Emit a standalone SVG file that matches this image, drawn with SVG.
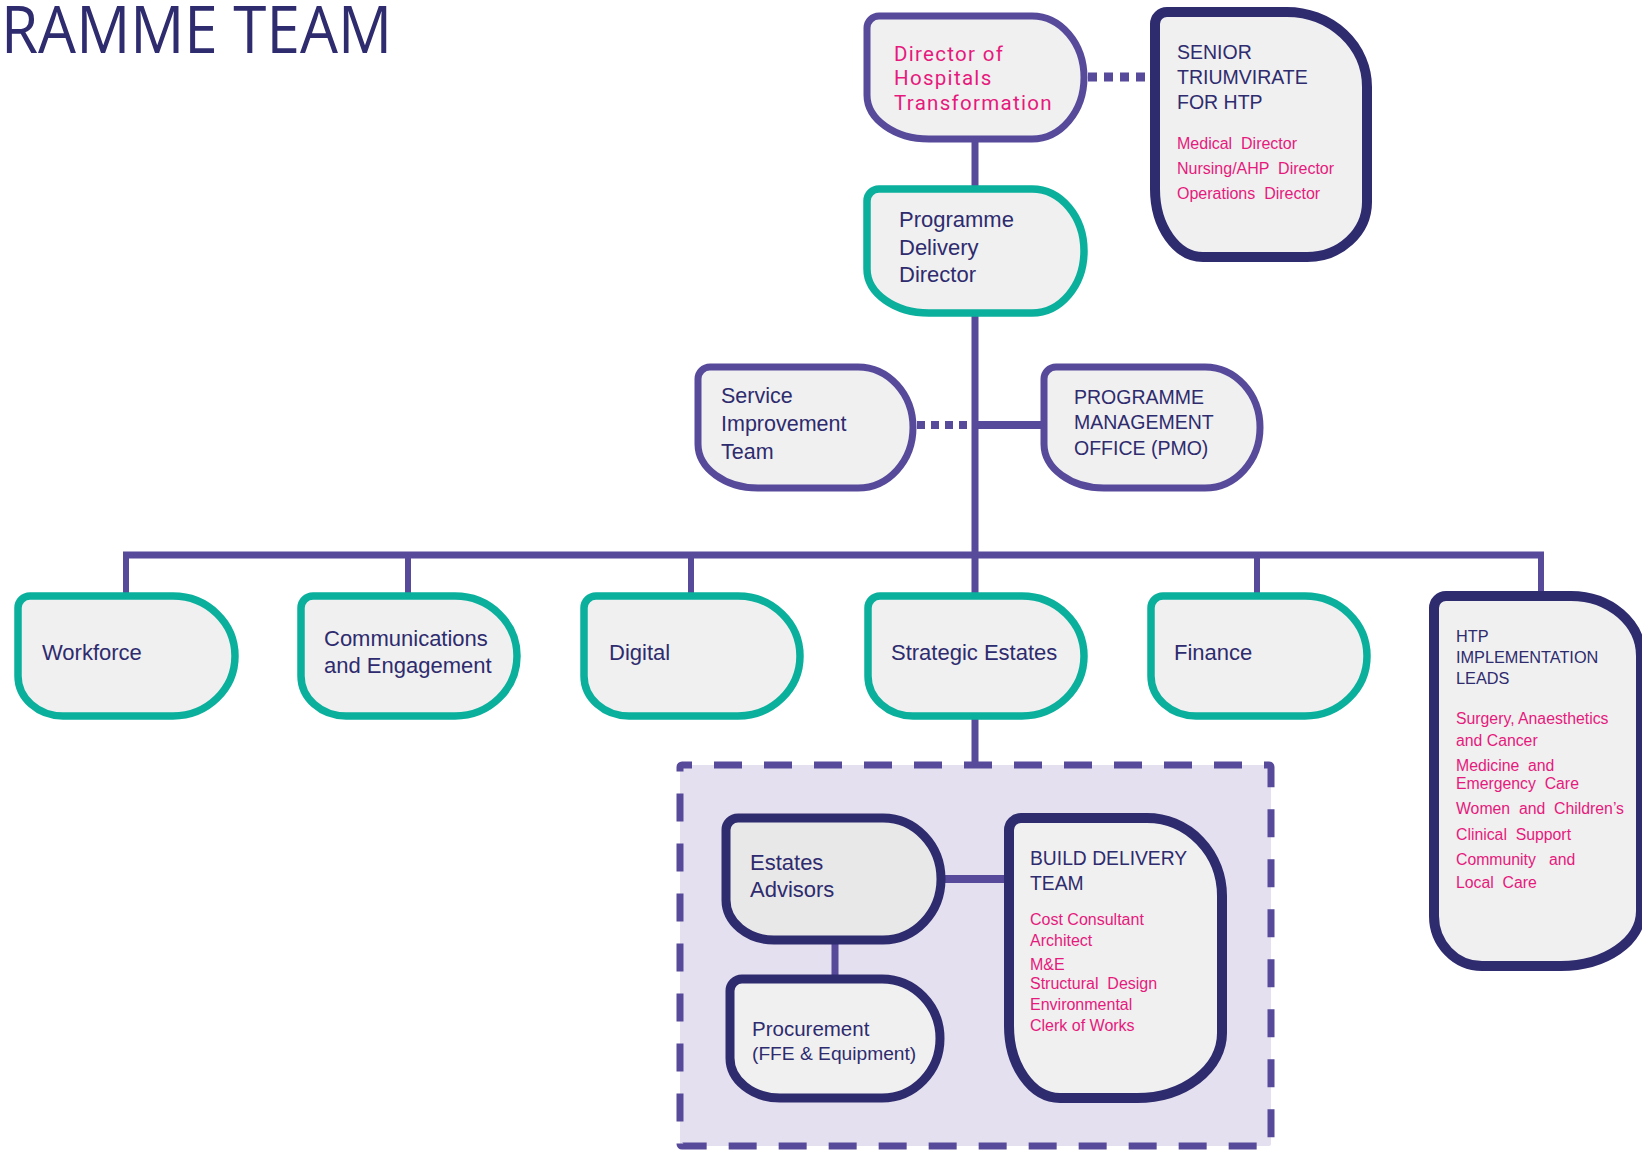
<svg xmlns="http://www.w3.org/2000/svg" width="1642" height="1151" viewBox="0 0 1642 1151">
<style>
.n{fill:#f0f0f0;stroke-linejoin:round}
.p{stroke:#574a9a;stroke-width:7}
.t{stroke:#0bb09d;stroke-width:7.5}
.d{stroke:#2e2b6e;stroke-width:10}
.d9{stroke:#2e2b6e;stroke-width:9}
.c{stroke:#574a9a;fill:none}
.tx{font-family:"Liberation Sans",Arial,sans-serif;fill:#2e2b6e}
.pk{font-family:"Liberation Sans",Arial,sans-serif;fill:#e6197d}
</style>
<rect width="1642" height="1151" fill="#ffffff"/>
<text x="1" y="53" font-family="Open Sans, sans-serif" font-size="66" fill="#2e2b6e" textLength="391" lengthAdjust="spacingAndGlyphs">RAMME TEAM</text>

<g id="estates-group">
<rect x="680" y="765" width="591" height="381" rx="2" fill="#e4e0ef" stroke="#574a9a" stroke-width="7" stroke-dasharray="28 22" stroke-dashoffset="18"/>
</g>

<g id="connectors">
<line class="c" x1="975" y1="139" x2="975" y2="189" stroke-width="7"/>
<line class="c" x1="975" y1="313" x2="975" y2="596" stroke-width="7"/>
<line class="c" x1="975" y1="716" x2="975" y2="765" stroke-width="7"/>
<line class="c" x1="1088" y1="77" x2="1151" y2="77" stroke-width="9" stroke-dasharray="9 7"/>
<line class="c" x1="917" y1="425" x2="972" y2="425" stroke-width="8" stroke-dasharray="8 6"/>
<line class="c" x1="975" y1="425" x2="1044" y2="425" stroke-width="8"/>
<line class="c" x1="123" y1="555" x2="1544" y2="555" stroke-width="7"/>
<line class="c" x1="126" y1="555" x2="126" y2="596" stroke-width="6"/>
<line class="c" x1="408" y1="555" x2="408" y2="596" stroke-width="6"/>
<line class="c" x1="691" y1="555" x2="691" y2="596" stroke-width="6"/>
<line class="c" x1="1257" y1="555" x2="1257" y2="596" stroke-width="6"/>
<line class="c" x1="1541" y1="555" x2="1541" y2="596" stroke-width="6"/>
<line class="c" x1="945" y1="879" x2="1005" y2="879" stroke-width="8"/>
<line class="c" x1="835" y1="944" x2="835" y2="976" stroke-width="7"/>
</g>

<g id="director">
<path class="n p" d="M867,28 A12,12 0 0 1 879,16 H1032 A52,61.5 0 0 1 1084,77.5 A52,61.5 0 0 1 1032,139 H929 A62,44 0 0 1 867,95 Z"/>
<text font-family="Roboto, sans-serif" font-size="20.5" letter-spacing="1.3" fill="#e6197d"><tspan x="894" y="61">Director of</tspan><tspan x="894" y="85.3">Hospitals</tspan><tspan x="894" y="109.6">Transformation</tspan></text>
</g>

<g id="senior">
<path class="n d" d="M1155,24 A12,12 0 0 1 1167,12 H1287 A80,75 0 0 1 1367,87 V202 A60,55 0 0 1 1307,257 H1203 A48,68 0 0 1 1155,189 Z"/>
<text class="tx" font-size="19.5"><tspan x="1177" y="59">SENIOR</tspan><tspan x="1177" y="84">TRIUMVIRATE</tspan><tspan x="1177" y="109">FOR HTP</tspan></text>
<text class="pk" font-size="16" xml:space="preserve"><tspan x="1177" y="149">Medical  Director</tspan><tspan x="1177" y="174">Nursing/AHP  Director</tspan><tspan x="1177" y="199">Operations  Director</tspan></text>
</g>

<g id="programme-delivery">
<path class="n t" d="M867,201 A12,12 0 0 1 879,189 H1032 A52,62 0 0 1 1084,251 A52,62 0 0 1 1032,313 H929 A62,44 0 0 1 867,269 Z"/>
<text class="tx" font-size="22"><tspan x="899" y="227">Programme</tspan><tspan x="899" y="255">Delivery</tspan><tspan x="899" y="282">Director</tspan></text>
</g>

<g id="service-improvement">
<path class="n p" d="M698,379 A12,12 0 0 1 710,367 H858 A55,60.5 0 0 1 913,427.5 A55,60.5 0 0 1 858,488 H758 A60,44 0 0 1 698,444 Z"/>
<text class="tx" font-size="21.5"><tspan x="721" y="403">Service</tspan><tspan x="721" y="431">Improvement</tspan><tspan x="721" y="459">Team</tspan></text>
</g>

<g id="pmo">
<path class="n p" d="M1044,379 A12,12 0 0 1 1056,367 H1205 A55,60.5 0 0 1 1260,427.5 A55,60.5 0 0 1 1205,488 H1104 A60,44 0 0 1 1044,444 Z"/>
<text class="tx" font-size="19.5"><tspan x="1074" y="404">PROGRAMME</tspan><tspan x="1074" y="429">MANAGEMENT</tspan><tspan x="1074" y="455">OFFICE (PMO)</tspan></text>
</g>

<g id="workforce">
<path class="n t" d="M18,608 A12,12 0 0 1 30,596 H173 A62,60 0 0 1 235,656 A62,60 0 0 1 173,716 H63 A45,40 0 0 1 18,676 Z"/>
<text class="tx" font-size="22" x="42" y="660">Workforce</text>
</g>

<g id="communications">
<path class="n t" d="M301,608 A12,12 0 0 1 313,596 H455 A62,60 0 0 1 517,656 A62,60 0 0 1 455,716 H346 A45,40 0 0 1 301,676 Z"/>
<text class="tx" font-size="22"><tspan x="324" y="646">Communications</tspan><tspan x="324" y="673">and Engagement</tspan></text>
</g>

<g id="digital">
<path class="n t" d="M584,608 A12,12 0 0 1 596,596 H738 A62,60 0 0 1 800,656 A62,60 0 0 1 738,716 H629 A45,40 0 0 1 584,676 Z"/>
<text class="tx" font-size="22" x="609" y="660">Digital</text>
</g>

<g id="strategic-estates">
<path class="n t" d="M868,608 A12,12 0 0 1 880,596 H1022 A62,60 0 0 1 1084,656 A62,60 0 0 1 1022,716 H913 A45,40 0 0 1 868,676 Z"/>
<text class="tx" font-size="22" x="891" y="660">Strategic Estates</text>
</g>

<g id="finance">
<path class="n t" d="M1151,608 A12,12 0 0 1 1163,596 H1305 A62,60 0 0 1 1367,656 A62,60 0 0 1 1305,716 H1196 A45,40 0 0 1 1151,676 Z"/>
<text class="tx" font-size="22" x="1174" y="660">Finance</text>
</g>

<g id="htp-leads">
<path class="n d" d="M1434,608 A12,12 0 0 1 1446,596 H1571 A70,60 0 0 1 1641,656 V911 A80,55 0 0 1 1561,966 H1482 A48,50 0 0 1 1434,916 Z"/>
<text class="tx" font-size="16.3"><tspan x="1456" y="642">HTP</tspan><tspan x="1456" y="663">IMPLEMENTATION</tspan><tspan x="1456" y="684">LEADS</tspan></text>
<text class="pk" font-size="15.8" xml:space="preserve"><tspan x="1456" y="724">Surgery, Anaesthetics</tspan><tspan x="1456" y="746">and Cancer</tspan><tspan x="1456" y="771">Medicine  and</tspan><tspan x="1456" y="789">Emergency  Care</tspan><tspan x="1456" y="814">Women  and  Children’s</tspan><tspan x="1456" y="840">Clinical  Support</tspan><tspan x="1456" y="865">Community   and</tspan><tspan x="1456" y="888">Local  Care</tspan></text>
</g>

<g id="estates-advisors">
<path class="n d9" style="fill:#e8e8e8" d="M726,830 A12,12 0 0 1 738,818 H883 A58,61 0 0 1 941,879 A58,61 0 0 1 883,940 H774 A48,40 0 0 1 726,900 Z"/>
<text class="tx" font-size="22"><tspan x="750" y="870">Estates</tspan><tspan x="750" y="897">Advisors</tspan></text>
</g>

<g id="procurement">
<path class="n d9" d="M730,991 A12,12 0 0 1 742,979 H882 A58,59.5 0 0 1 940,1038.5 A58,59.5 0 0 1 882,1098 H780 A50,40 0 0 1 730,1058 Z"/>
<text class="tx"><tspan x="752" y="1036" font-size="20.5">Procurement</tspan><tspan x="752" y="1060" font-size="19.2">(FFE &amp; Equipment)</tspan></text>
</g>

<g id="build-delivery">
<path class="n d" d="M1009,830 A12,12 0 0 1 1021,818 H1147 A75,78 0 0 1 1222,896 V1033 A85,65 0 0 1 1137,1098 H1060 A51,72 0 0 1 1009,1026 Z"/>
<text class="tx" font-size="19.3"><tspan x="1030" y="865">BUILD DELIVERY</tspan><tspan x="1030" y="890">TEAM</tspan></text>
<text class="pk" font-size="16" xml:space="preserve"><tspan x="1030" y="925">Cost Consultant</tspan><tspan x="1030" y="946">Architect</tspan><tspan x="1030" y="970">M&amp;E</tspan><tspan x="1030" y="989">Structural  Design</tspan><tspan x="1030" y="1010">Environmental</tspan><tspan x="1030" y="1031">Clerk of Works</tspan></text>
</g>
</svg>
